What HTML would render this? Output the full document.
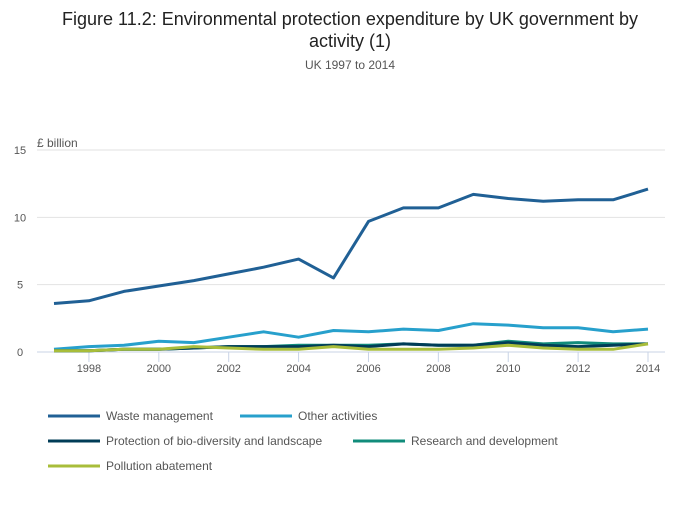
<!DOCTYPE html>
<html><head><meta charset="utf-8"><style>
body{margin:0;background:#fff;font-family:"Liberation Sans",sans-serif;}
svg text{font-family:"Liberation Sans",sans-serif;}
</style></head><body>
<svg id="chart" width="700" height="502" xmlns="http://www.w3.org/2000/svg">
<text x="350" y="25" text-anchor="middle" font-size="18" fill="#222">Figure 11.2: Environmental protection expenditure by UK government by</text>
<text x="350" y="47" text-anchor="middle" font-size="18" fill="#222">activity (1)</text>
<text x="350" y="69" text-anchor="middle" font-size="12" fill="#555">UK 1997 to 2014</text>
<text x="37" y="147" font-size="12" fill="#555">£ billion</text>
<g id="grid"></g><g id="lines"></g><g id="legend"></g>
</svg>
<script>
const years=[1997,1998,1999,2000,2001,2002,2003,2004,2005,2006,2007,2008,2009,2010,2011,2012,2013,2014];
const yTicks=[0,5,10,15];
const xTicks=[1998,2000,2002,2004,2006,2008,2010,2012,2014];
const waste=[3.6,3.8,4.5,4.9,5.3,5.8,6.3,6.9,5.5,9.7,10.7,10.7,11.7,11.4,11.2,11.3,11.3,12.1];
const other=[0.2,0.4,0.5,0.8,0.7,1.1,1.5,1.1,1.6,1.5,1.7,1.6,2.1,2.0,1.8,1.8,1.5,1.7];
const bio=[0.1,0.1,0.2,0.2,0.3,0.4,0.4,0.4,0.5,0.4,0.6,0.5,0.5,0.7,0.5,0.4,0.5,0.6];
const rnd=[0.1,0.1,0.2,0.2,0.3,0.4,0.4,0.5,0.5,0.5,0.6,0.5,0.5,0.8,0.6,0.7,0.6,0.6];
const pollution=[0.1,0.1,0.2,0.2,0.4,0.3,0.2,0.2,0.4,0.2,0.2,0.2,0.3,0.5,0.3,0.2,0.2,0.6];
const seriesNames=["Waste management","Other activities","Protection of bio-diversity and landscape","Research and development","Pollution abatement"];
const NS="http://www.w3.org/2000/svg";
const X=y=>54+(y-1997)*(648-54)/17;
const Y=v=>352-v*(352-150)/15;
function mk(t,a,p){const e=document.createElementNS(NS,t);for(const k in a)e.setAttribute(k,a[k]);p.appendChild(e);return e;}
const grid=document.getElementById('grid');
yTicks.forEach(v=>{
  const l=mk('line',{x1:37,x2:665,y1:Y(v),y2:Y(v),stroke:v===0?'#c8d3e6':'#e2e2e2','stroke-width':1},grid);
  
  
  const t=mk('text',{x:20,y:Y(v)+4,'text-anchor':'middle','font-size':11,fill:'#555'},grid);t.textContent=v;
  
  
});
xTicks.forEach(y=>{
  const l=mk('line',{x1:X(y),x2:X(y),y1:352,y2:362,stroke:'#c8d3e6'},grid);
  
  
  const t=mk('text',{x:X(y),y:372,'text-anchor':'middle','font-size':11,fill:'#555'},grid);t.textContent=y;
  
  
});
const data=[waste,other,bio,rnd,pollution];
const colors=['#206095','#27a0cc','#003c57','#118c7b','#a8bd3a'];
const lines=document.getElementById('lines');
[0,1,3,2,4].forEach(i=>{
  const d=data[i].map((v,j)=>(j?'L':'M')+X(years[j]).toFixed(1)+','+Y(v).toFixed(1)).join(' ');
  const p=mk('path',{d:d,fill:'none',stroke:colors[i],'stroke-width':3,'stroke-linejoin':'round'},lines);
  
  
});
const lg=document.getElementById('legend');
const pos=[[48,416],[240,416],[48,441],[353,441],[48,466]];
seriesNames.forEach((n,i)=>{
  const g=mk('g',{},lg);
  
  
  mk('line',{x1:pos[i][0],x2:pos[i][0]+52,y1:pos[i][1],y2:pos[i][1],stroke:colors[i],'stroke-width':3},g);
  const t=mk('text',{x:pos[i][0]+58,y:pos[i][1]+4,'font-size':12,fill:'#555'},g);t.textContent=n;
});
</script>
</body></html>
